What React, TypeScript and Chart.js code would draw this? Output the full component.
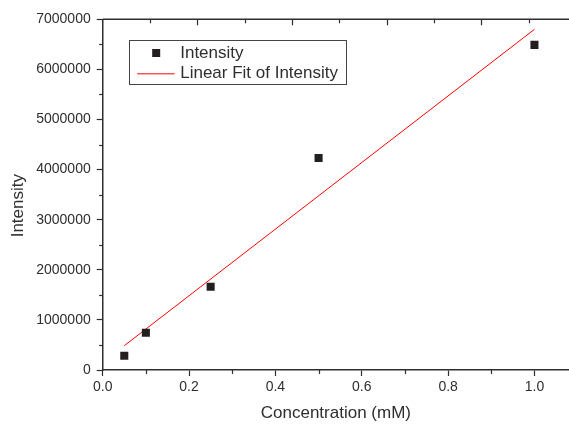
import React, { useEffect, useRef } from 'react';
import { Chart, registerables } from 'chart.js';

Chart.register(...registerables);

// ---- data ----
const CONCENTRATION = [0.05, 0.1, 0.25, 0.5, 1.0];
const INTENSITY = [285000, 745000, 1663000, 4230000, 6490000];
const FIT_X = [0.05, 1.0];
const FIT_Y = [485000, 6800000];
const SERIES_LABEL = 'Intensity';
const FIT_LABEL = 'Linear Fit of Intensity';
const X_TITLE = 'Concentration (mM)';
const Y_TITLE = 'Intensity';
const X_MIN = 0;
const X_MAX = 1.08;
const Y_MIN = 0;
const Y_MAX = 7000000;
const X_STEP = 0.2;
const Y_STEP = 1000000;
const TOP_TICK_STEP = 0.10965; // top mirror axis ticks (different spacing in the reference)

const FONT = '"Liberation Sans", Arial, Helvetica, sans-serif';
const AXIS_COLOR = '#2e2e2e';
const TEXT_COLOR = '#2e2e2e';

const decorPlugin = {
  id: 'decor',
  afterDatasetsDraw(chart: any) {
    const { ctx, chartArea, scales } = chart;
    const xs = scales.x;
    const ys = scales.y;
    ctx.save();
    ctx.strokeStyle = AXIS_COLOR;
    // top frame line
    ctx.lineWidth = 1.5;
    ctx.beginPath();
    ctx.moveTo(chartArea.left, chartArea.top);
    ctx.lineTo(chartArea.right, chartArea.top);
    ctx.stroke();
    ctx.lineWidth = 1.2;
    // y minor ticks
    for (let v = Y_MIN + Y_STEP / 2; v < Y_MAX; v += Y_STEP) {
      const py = Math.round(ys.getPixelForValue(v)) + 0.5;
      ctx.beginPath();
      ctx.moveTo(chartArea.left - 3.5, py);
      ctx.lineTo(chartArea.left, py);
      ctx.stroke();
    }
    // x minor ticks
    for (let v = X_MIN + X_STEP / 2; v < X_MAX; v += X_STEP) {
      const px = Math.round(xs.getPixelForValue(v)) + 0.5;
      ctx.beginPath();
      ctx.moveTo(px, chartArea.bottom);
      ctx.lineTo(px, chartArea.bottom + 4);
      ctx.stroke();
    }
    // top ticks pointing inward
    for (let k = 1; k * TOP_TICK_STEP < X_MAX; k++) {
      const px = Math.round(xs.getPixelForValue(k * TOP_TICK_STEP)) + 0.5;
      const len = k % 2 === 0 ? 6 : 4;
      ctx.beginPath();
      ctx.moveTo(px, chartArea.top);
      ctx.lineTo(px, chartArea.top + len);
      ctx.stroke();
    }
    // y axis title
    ctx.fillStyle = TEXT_COLOR;
    ctx.font = `17px ${FONT}`;
    ctx.textAlign = 'center';
    ctx.textBaseline = 'middle';
    ctx.translate(chartArea.left - 84.5, (chartArea.top + chartArea.bottom) / 2 + 11);
    ctx.rotate(-Math.PI / 2);
    ctx.fillText(Y_TITLE, 0, 0);
    ctx.restore();

    // legend box
    ctx.save();
    const bx = chartArea.left + 26;
    const by = chartArea.top + 21;
    const bw = 217;
    const bh = 44;
    ctx.fillStyle = '#ffffff';
    ctx.fillRect(bx, by, bw, bh);
    ctx.strokeStyle = '#444';
    ctx.lineWidth = 1;
    ctx.strokeRect(Math.round(bx) + 0.5, Math.round(by) + 0.5, bw, bh);
    const ds0 = chart.data.datasets[0];
    const ds1 = chart.data.datasets[1];
    // marker
    ctx.fillStyle = ds0.backgroundColor;
    ctx.fillRect(bx + 23.5, by + 8.7, 8, 8);
    // line
    ctx.strokeStyle = ds1.borderColor;
    ctx.lineWidth = 1;
    ctx.beginPath();
    ctx.moveTo(bx + 8.5, by + 33.5);
    ctx.lineTo(bx + 46, by + 33.5);
    ctx.stroke();
    ctx.fillStyle = TEXT_COLOR;
    ctx.font = `17px ${FONT}`;
    ctx.textAlign = 'left';
    ctx.textBaseline = 'middle';
    ctx.fillText(ds0.label, bx + 51.5, by + 13);
    ctx.fillText(ds1.label, bx + 51.5, by + 33);
    ctx.restore();
  },
};

export default function App() {
  const ref = useRef<HTMLCanvasElement>(null);
  useEffect(() => {
    const chart = new Chart(ref.current as HTMLCanvasElement, {
      type: 'scatter',
      data: {
        datasets: [
          {
            label: SERIES_LABEL,
            data: CONCENTRATION.map((x, i) => ({ x, y: INTENSITY[i] })),
            pointStyle: 'rect',
            pointRadius: 5.7,
            pointHoverRadius: 5.7,
            backgroundColor: '#231f20',
            borderColor: '#231f20',
            borderWidth: 0,
            order: 0,
          },
          {
            label: FIT_LABEL,
            data: FIT_X.map((x, i) => ({ x, y: FIT_Y[i] })),
            showLine: true,
            pointRadius: 0,
            borderColor: '#ff0000',
            backgroundColor: '#ff0000',
            borderWidth: 1,
            order: 1,
          },
        ],
      } as any,
      options: {
        animation: false,
        responsive: false,
        maintainAspectRatio: false,
        layout: { autoPadding: false, padding: { top: 19.3, right: 0, left: 0, bottom: 0 } },
        plugins: { legend: { display: false }, tooltip: { enabled: false } },
        scales: {
          x: {
            type: 'linear',
            position: 'bottom',
            min: X_MIN,
            max: X_MAX,
            ticks: {
              stepSize: X_STEP,
              includeBounds: false,
              maxRotation: 0,
              autoSkip: false,
              callback: (v: any) => Number(v).toFixed(1),
              font: { family: FONT, size: 14 },
              color: TEXT_COLOR,
              padding: 3,
            },
            grid: {
              drawOnChartArea: false,
              drawTicks: true,
              tickLength: 6,
              tickColor: AXIS_COLOR,
              tickWidth: 1.2,
            },
            border: { display: true, color: AXIS_COLOR, width: 1.5 },
            title: {
              display: true,
              text: X_TITLE,
              font: { family: FONT, size: 17 },
              color: TEXT_COLOR,
              padding: { top: 0, bottom: 0 },
            },
            afterFit: (s: any) => {
              s.height = 54;
              s.paddingLeft = 0;
              s.paddingRight = 0;
            },
          },
          y: {
            type: 'linear',
            min: Y_MIN,
            max: Y_MAX,
            ticks: {
              stepSize: Y_STEP,
              autoSkip: false,
              callback: (v: any) => String(v),
              font: { family: FONT, size: 14 },
              color: TEXT_COLOR,
              padding: 6,
            },
            grid: {
              drawOnChartArea: false,
              drawTicks: true,
              tickLength: 6,
              tickColor: AXIS_COLOR,
              tickWidth: 1.2,
            },
            border: { display: true, color: AXIS_COLOR, width: 1.5 },
            afterFit: (s: any) => {
              s.width = 102.7;
              s.paddingTop = 0;
              s.paddingBottom = 0;
            },
          },
        },
      } as any,
      plugins: [decorPlugin],
    });
    return () => chart.destroy();
  }, []);
  return (
    <div style={{ position: 'fixed', left: 0, top: 0, width: 569, height: 424, background: '#fff' }}>
      <canvas ref={ref} width={569} height={424} style={{ display: 'block' }} />
    </div>
  );
}
